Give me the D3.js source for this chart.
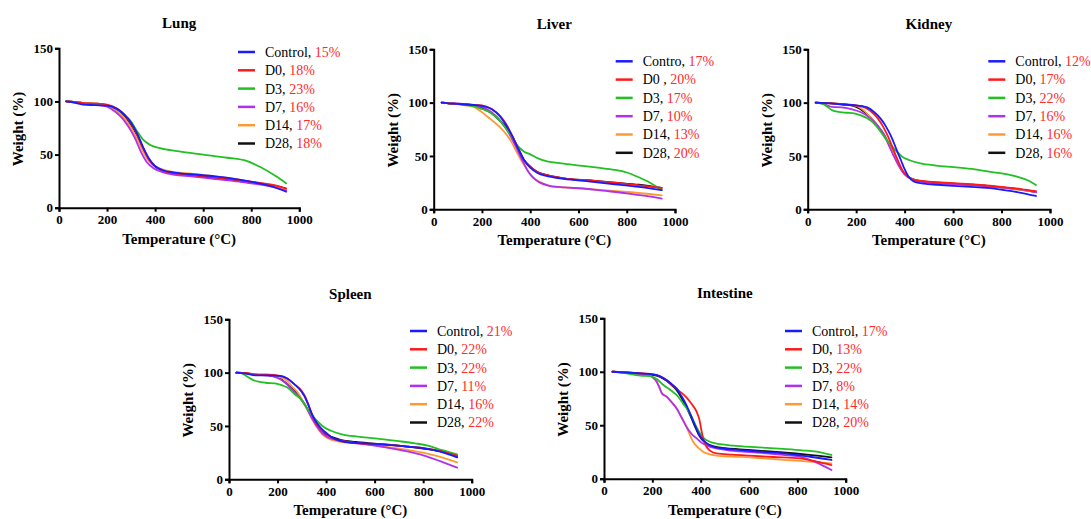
<!DOCTYPE html>
<html>
<head>
<meta charset="utf-8">
<script src="https://cdn.jsdelivr.net/npm/d3@7"></script>
<style>
  html, body { margin: 0; padding: 0; background: #fff; }
  svg { display: block; }
</style>
</head>
<body>
<svg id="chart" width="1091" height="519"></svg>
<script>
// ---------------- DATA ----------------
const seriesNames = ["Control", "D0", "D3", "D7", "D14", "D28"];
const xTicks = [0, 200, 400, 600, 800, 1000];
const yTicks = [0, 50, 100, 150];

// Lung
const lungLabels = ["Control, ", "D0, ", "D3, ", "D7, ", "D14, ", "D28, "];
const lungResidue = ["15%", "18%", "23%", "16%", "17%", "18%"];
const lungControl = [[30,100],[60,99],[100,97],[150,96.5],[200,96],[240,93],[270,88],[300,80],[325,70],[350,57],[375,46],[400,39],[430,35.5],[480,33],[550,31.5],[650,29.5],[750,26.5],[830,23],[900,19],[945,15]];
const lungD0 = [[30,100],[60,99.5],[100,98.5],[150,98],[200,97],[240,93.5],[270,88],[300,79],[325,69],[350,56],[375,45],[400,39],[430,35],[480,32.5],[550,31],[650,28.5],[750,26],[830,23.5],[900,21],[945,18]];
const lungD3 = [[30,100],[60,99.5],[100,98],[150,97.5],[200,96.5],[240,93],[270,88],[300,81],[325,72],[350,64],[380,59],[420,56],[500,53],[600,50],[700,47],[780,44],[840,38],[900,30],[945,23]];
const lungD7 = [[30,100],[60,99.5],[100,98],[150,97],[200,95],[230,91],[260,85],[290,76],[315,66],[340,53],[365,43],[395,37],[430,33.5],[480,31],[550,29.5],[650,27],[750,24.5],[830,22],[900,19],[945,16]];
const lungD14 = [[30,100],[60,99.5],[100,98.5],[150,98],[200,96.5],[235,92],[265,86],[295,77],[320,67],[345,55],[370,45],[400,39],[430,36],[480,33.5],[550,32],[650,29.5],[750,26.5],[830,23],[900,20],[945,17]];
const lungD28 = [[30,100],[60,99.5],[100,98.5],[150,98],[200,96.5],[240,93],[270,87],[300,78],[325,68],[350,55],[375,45],[400,39],[430,35],[480,32.5],[550,30.5],[650,28],[750,25],[830,22.5],[900,20.5],[945,18]];

// Liver
const liverLabels = ["Contro, ", "D0 , ", "D3, ", "D7, ", "D14, ", "D28, "];
const liverResidue = ["17%", "20%", "17%", "10%", "13%", "20%"];
const liverControl = [[33,100],[80,99],[150,98],[200,97],[240,94],[275,87],[300,79],[325,69],[350,57],[375,46],[400,39],[430,34],[470,31],[540,28.5],[650,26],[750,23.5],[850,21],[945,18]];
const liverD0 = [[33,100],[80,99],[150,98],[200,97.5],[240,94],[275,87.5],[300,80],[325,69],[350,57],[375,46],[400,40],[430,35],[470,32],[540,29],[650,27],[750,25],[850,22.5],[945,20]];
const liverD3 = [[33,100],[80,99],[130,98],[170,96.5],[200,94],[233,91],[270,84],[302,75],[330,66],[350,59],[375,54],[400,51.5],[430,48],[470,45],[530,43],[605,41],[680,39],[750,37],[800,34.5],[850,30],[900,24.5],[945,18]];
const liverD7 = [[33,100],[80,99.5],[150,98],[200,96],[240,91],[280,82],[310,72],[340,59],[365,47],[390,36],[415,29],[440,25],[480,22],[540,20.5],[620,19.5],[700,17.5],[800,15],[880,12.5],[945,10]];
const liverD14 = [[33,100],[80,99],[130,97.5],[165,96],[200,91],[233,85],[270,78],[302,70],[325,62],[343,54],[365,45],[385,38],[405,31.5],[426,27.5],[455,24],[481,22],[540,20.5],[605,19.7],[680,18.5],[744,17.2],[840,15.5],[945,13]];
const liverD28 = [[33,100],[80,99],[150,98],[200,95],[240,90],[275,83],[300,77],[325,68],[350,57],[375,46],[400,40],[430,35],[470,32],[540,29],[650,27],[750,25],[850,23],[945,20]];

// Kidney
const kidneyLabels = ["Control, ", "D0, ", "D3, ", "D7, ", "D14, ", "D28, "];
const kidneyResidue = ["12%", "17%", "22%", "16%", "16%", "16%"];
const kidneyControl = [[33,100],[80,99.5],[150,98],[200,97.5],[246,95.5],[275,91],[301,85],[322,78],[342,69.5],[358,61],[370,54],[385,46],[398,38.5],[415,31],[439,26],[480,24],[536,23],[600,22],[674,21],[740,20],[811,18],[880,15.5],[942,12.5]];
const kidneyD0 = [[33,100],[80,99.5],[150,98.5],[200,97.5],[240,95],[270,90],[290,85],[310,78],[330,69],[350,58],[370,47],[390,37],[410,31],[440,27.5],[500,26],[600,24.5],[700,23],[800,21],[880,19],[942,17]];
const kidneyD3 = [[33,100],[60,99],[81,96.2],[100,93],[122,91.5],[160,90.5],[191,90],[220,88],[246,85.3],[275,80],[301,72.7],[325,65],[349,58.7],[370,53.5],[390,49.3],[420,46],[466,43],[530,41],[603,39.5],[690,37.5],[768,34.7],[820,33],[864,30.6],[910,27],[942,22.8]];
const kidneyD7 = [[33,100],[70,98.5],[100,96],[140,95.5],[180,94],[220,91],[260,85],[290,78],[315,70],[335,60],[355,50],[375,41],[395,34],[425,29],[470,26],[536,24.4],[620,23.5],[720,22],[820,20],[900,18],[942,16]];
const kidneyD14 = [[33,100],[80,99.5],[150,98],[200,97],[230,93],[260,86],[290,78],[315,70],[338,60],[358,50],[378,41],[398,34],[425,29],[470,26.5],[540,25],[640,23.5],[740,22],[840,19.5],[942,16]];
const kidneyD28 = [[33,100],[80,99.5],[150,98.5],[200,96],[230,92],[260,86],[290,78],[315,70],[338,60],[358,50],[380,40],[400,33],[430,28.5],[475,26],[540,25],[640,23.5],[740,22],[840,19.5],[942,16]];

// Spleen
const spleenLabels = ["Control, ", "D0, ", "D3, ", "D7, ", "D14, ", "D28, "];
const spleenResidue = ["21%", "22%", "22%", "11%", "16%", "22%"];
const spleenControl = [[30,100],[70,99],[110,97.5],[160,97.5],[210,97],[240,94.5],[270,89],[299,82],[315,76],[327,69.7],[340,62],[354,55.6],[375,49],[395,44.6],[420,40],[450,36.8],[500,34.5],[560,33.7],[670,32],[740,30.5],[807,29],[870,26],[940,20.6]];
const spleenD0 = [[30,100],[70,99.5],[110,98],[160,98],[210,97],[240,94.5],[270,89],[299,83],[315,77],[327,70],[340,62],[354,55],[375,48],[395,43.5],[420,39.5],[450,36.5],[500,34.5],[560,33.5],[670,32],[740,30.5],[807,29],[870,26.5],[940,22]];
const spleenD3 = [[30,100],[50,99.5],[70,97],[100,93],[121,91.5],[150,90.5],[190,90],[220,88],[245,85.3],[270,80],[299,74.3],[325,65.5],[347,58.7],[370,53],[389,49.3],[420,45.5],[465,42.2],[530,40],[602,38.4],[690,36],[767,33.7],[820,31.5],[863,28.4],[900,26],[940,23.4]];
const spleenD7 = [[30,100],[70,99.5],[110,98],[160,97.5],[200,95],[231,91],[260,84],[290,77],[315,69],[340,58],[361,50],[385,43],[410,39],[450,36.8],[520,34],[602,31.5],[680,28.5],[739,25.9],[800,22.5],[870,17],[940,10.9]];
const spleenD14 = [[30,100],[70,99.5],[110,98.5],[160,98],[200,96],[231,93.8],[260,87],[286,80.5],[305,73],[327,63.4],[345,55],[361,49.3],[378,44],[395,40],[430,36.5],[480,34.5],[532,33.7],[620,31],[680,29.5],[739,27.5],[800,25],[870,21],[940,15.9]];
const spleenD28 = [[30,100],[70,99.5],[110,98],[160,97.5],[200,96],[225,92],[255,86],[285,79],[310,71],[330,63],[350,55],[370,48.5],[395,43],[425,39.5],[460,37],[520,35],[600,33.5],[680,32],[760,30],[840,27.5],[900,25],[940,22]];

// Intestine
const intestineLabels = ["Control, ", "D0, ", "D3, ", "D7, ", "D14, ", "D28, "];
const intestineResidue = ["17%", "13%", "22%", "8%", "14%", "20%"];
const intestineControl = [[35,100],[80,99.5],[150,98.5],[190,97.9],[230,96],[259,92.3],[280,88.5],[300,84.5],[320,77.5],[341,68.9],[360,59],[376,50.2],[390,43],[404,37.8],[425,33],[451,29.9],[500,28],[562,26.8],[650,25.2],[741,23.7],[840,21],[941,17.5]];
const intestineD0 = [[35,100],[80,99.5],[150,98.5],[190,98],[230,96],[259,92],[280,88],[300,84],[320,80.5],[341,76],[362,70],[383,62.7],[395,55],[404,44],[414,35],[424,29.9],[440,26],[465,23.7],[530,22.5],[603,21.5],[700,20.3],[810,19.1],[880,16],[941,12.8]];
const intestineD3 = [[35,100],[80,99],[150,96.4],[190,96],[218,93.3],[246,87.6],[275,83],[300,78.3],[328,70],[355,61.2],[377,51],[397,42.5],[415,37.5],[438,34.6],[480,32.3],[534,30.9],[640,29.3],[741,27.8],[820,26.5],[879,25.3],[941,22.2]];
const intestineD7 = [[35,100],[80,99.5],[150,98],[190,96.5],[205,94],[218,90.7],[230,85],[239,80],[259,76.7],[280,71.5],[300,65.8],[320,57.5],[341,48.6],[362,42],[383,37.8],[405,33.5],[424,31.2],[460,28.5],[507,26.8],[590,25],[672,23.7],[740,22.3],[810,20.6],[880,15],[941,8.1]];
const intestineD14 = [[35,100],[80,99.5],[150,98],[190,96.5],[205,94],[218,90.7],[230,85],[239,80],[259,76.7],[280,71.5],[300,65.8],[320,58],[341,48.6],[355,41],[369,34.6],[390,29],[410,25.3],[435,23],[465,21.5],[530,20.6],[603,20],[700,18.3],[810,16.6],[880,15.5],[941,14.4]];
const intestineD28 = [[35,100],[80,99.5],[150,98.5],[190,97.5],[230,95.5],[259,91.5],[280,87.5],[300,83],[320,76],[341,67],[360,57.5],[376,49],[390,42],[404,37],[425,33],[451,30.5],[500,28.5],[562,27.5],[650,26],[741,24.5],[840,22.5],[941,20]];

// ---------------- STYLE / LAYOUT ----------------
const colors = ["#1a1aff", "#ff1a1a", "#22c022", "#b030f0", "#ff9a33", "#111111"];
const panels = [
  { title: "Lung", left: 59, top: 48.3, w: 240.3, h: 159.4, legX: 179, legY: 3.7,
    labels: lungLabels, residue: lungResidue,
    data: [lungControl, lungD0, lungD3, lungD7, lungD14, lungD28] },
  { title: "Liver", left: 433.7, top: 49.3, w: 241.3, h: 160, legX: 182, legY: 12,
    labels: liverLabels, residue: liverResidue,
    data: [liverControl, liverD0, liverD3, liverD7, liverD14, liverD28] },
  { title: "Kidney", left: 807.7, top: 49.3, w: 242.3, h: 160, legX: 180.6, legY: 12,
    labels: kidneyLabels, residue: kidneyResidue,
    data: [kidneyControl, kidneyD0, kidneyD3, kidneyD7, kidneyD14, kidneyD28] },
  { title: "Spleen", left: 229, top: 319.3, w: 242.7, h: 160, legX: 181, legY: 11.7,
    labels: spleenLabels, residue: spleenResidue,
    data: [spleenControl, spleenD0, spleenD3, spleenD7, spleenD14, spleenD28] },
  { title: "Intestine", left: 604, top: 318.3, w: 241.7, h: 160.4, legX: 181, legY: 12.7,
    labels: intestineLabels, residue: intestineResidue,
    data: [intestineControl, intestineD0, intestineD3, intestineD7, intestineD14, intestineD28] }
];

const serif = "'Liberation Serif', 'Times New Roman', serif";
const svg = d3.select("#chart");
svg.append("rect").attr("width", 1091).attr("height", 519).attr("fill", "#fff");

panels.forEach(p => {
  const g = svg.append("g").attr("transform", `translate(${p.left},${p.top})`);
  const x = d3.scaleLinear().domain([0, 1000]).range([0, p.w]);
  const y = d3.scaleLinear().domain([0, 150]).range([p.h, 0]);

  // curves (Control drawn last so it sits on top)
  const line = d3.line().x(d => x(d[0])).y(d => y(d[1])).curve(d3.curveMonotoneX);
  for (let i = p.data.length - 1; i >= 0; i--) {
    g.append("path").datum(p.data[i])
      .attr("d", line)
      .attr("fill", "none")
      .attr("stroke", colors[i])
      .attr("stroke-width", 1.8)
      .attr("stroke-linejoin", "round")
      .attr("stroke-linecap", "round");
  }

  // axes
  const xAxis = g.append("g").attr("transform", `translate(0,${p.h})`)
    .call(d3.axisBottom(x).tickValues(xTicks).tickSize(4).tickPadding(3).tickFormat(d3.format("d")));
  const yAxis = g.append("g")
    .call(d3.axisLeft(y).tickValues(yTicks).tickSize(4).tickPadding(2).tickFormat(d3.format("d")));
  [xAxis, yAxis].forEach(a => {
    a.select(".domain").attr("stroke", "#000").attr("stroke-width", 2);
    a.selectAll(".tick line").attr("stroke", "#000").attr("stroke-width", 2);
    a.selectAll(".tick text").attr("fill", "#000")
      .style("font-family", serif).style("font-weight", "bold").style("font-size", "13px");
  });

  // title
  g.append("text").attr("x", p.w / 2).attr("y", -20)
    .attr("text-anchor", "middle")
    .style("font-family", serif).style("font-weight", "bold").style("font-size", "15px")
    .text(p.title);

  // axis titles
  g.append("text").attr("x", p.w / 2).attr("y", p.h + 36)
    .attr("text-anchor", "middle")
    .style("font-family", serif).style("font-weight", "bold").style("font-size", "15px")
    .text("Temperature (°C)");
  g.append("text")
    .attr("transform", `translate(-36,${p.h / 2 + 1}) rotate(-90)`)
    .attr("text-anchor", "middle")
    .style("font-family", serif).style("font-weight", "bold").style("font-size", "15px")
    .text("Weight (%)");

  // legend
  const leg = g.append("g").attr("transform", `translate(${p.legX},${p.legY})`);
  seriesNames.forEach((s, i) => {
    const ry = i * 18.3;
    leg.append("line").attr("x1", 0).attr("x2", 17).attr("y1", ry).attr("y2", ry)
      .attr("stroke", colors[i]).attr("stroke-width", 2.5);
    const t = leg.append("text").attr("x", 27).attr("y", ry).attr("dy", "0.35em")
      .style("font-family", serif).style("font-size", "14px");
    t.append("tspan").attr("fill", "#000").text(p.labels[i]);
    t.append("tspan").attr("fill", "#ff2a2a").text(p.residue[i]);
  });
});
</script>
</body>
</html>
